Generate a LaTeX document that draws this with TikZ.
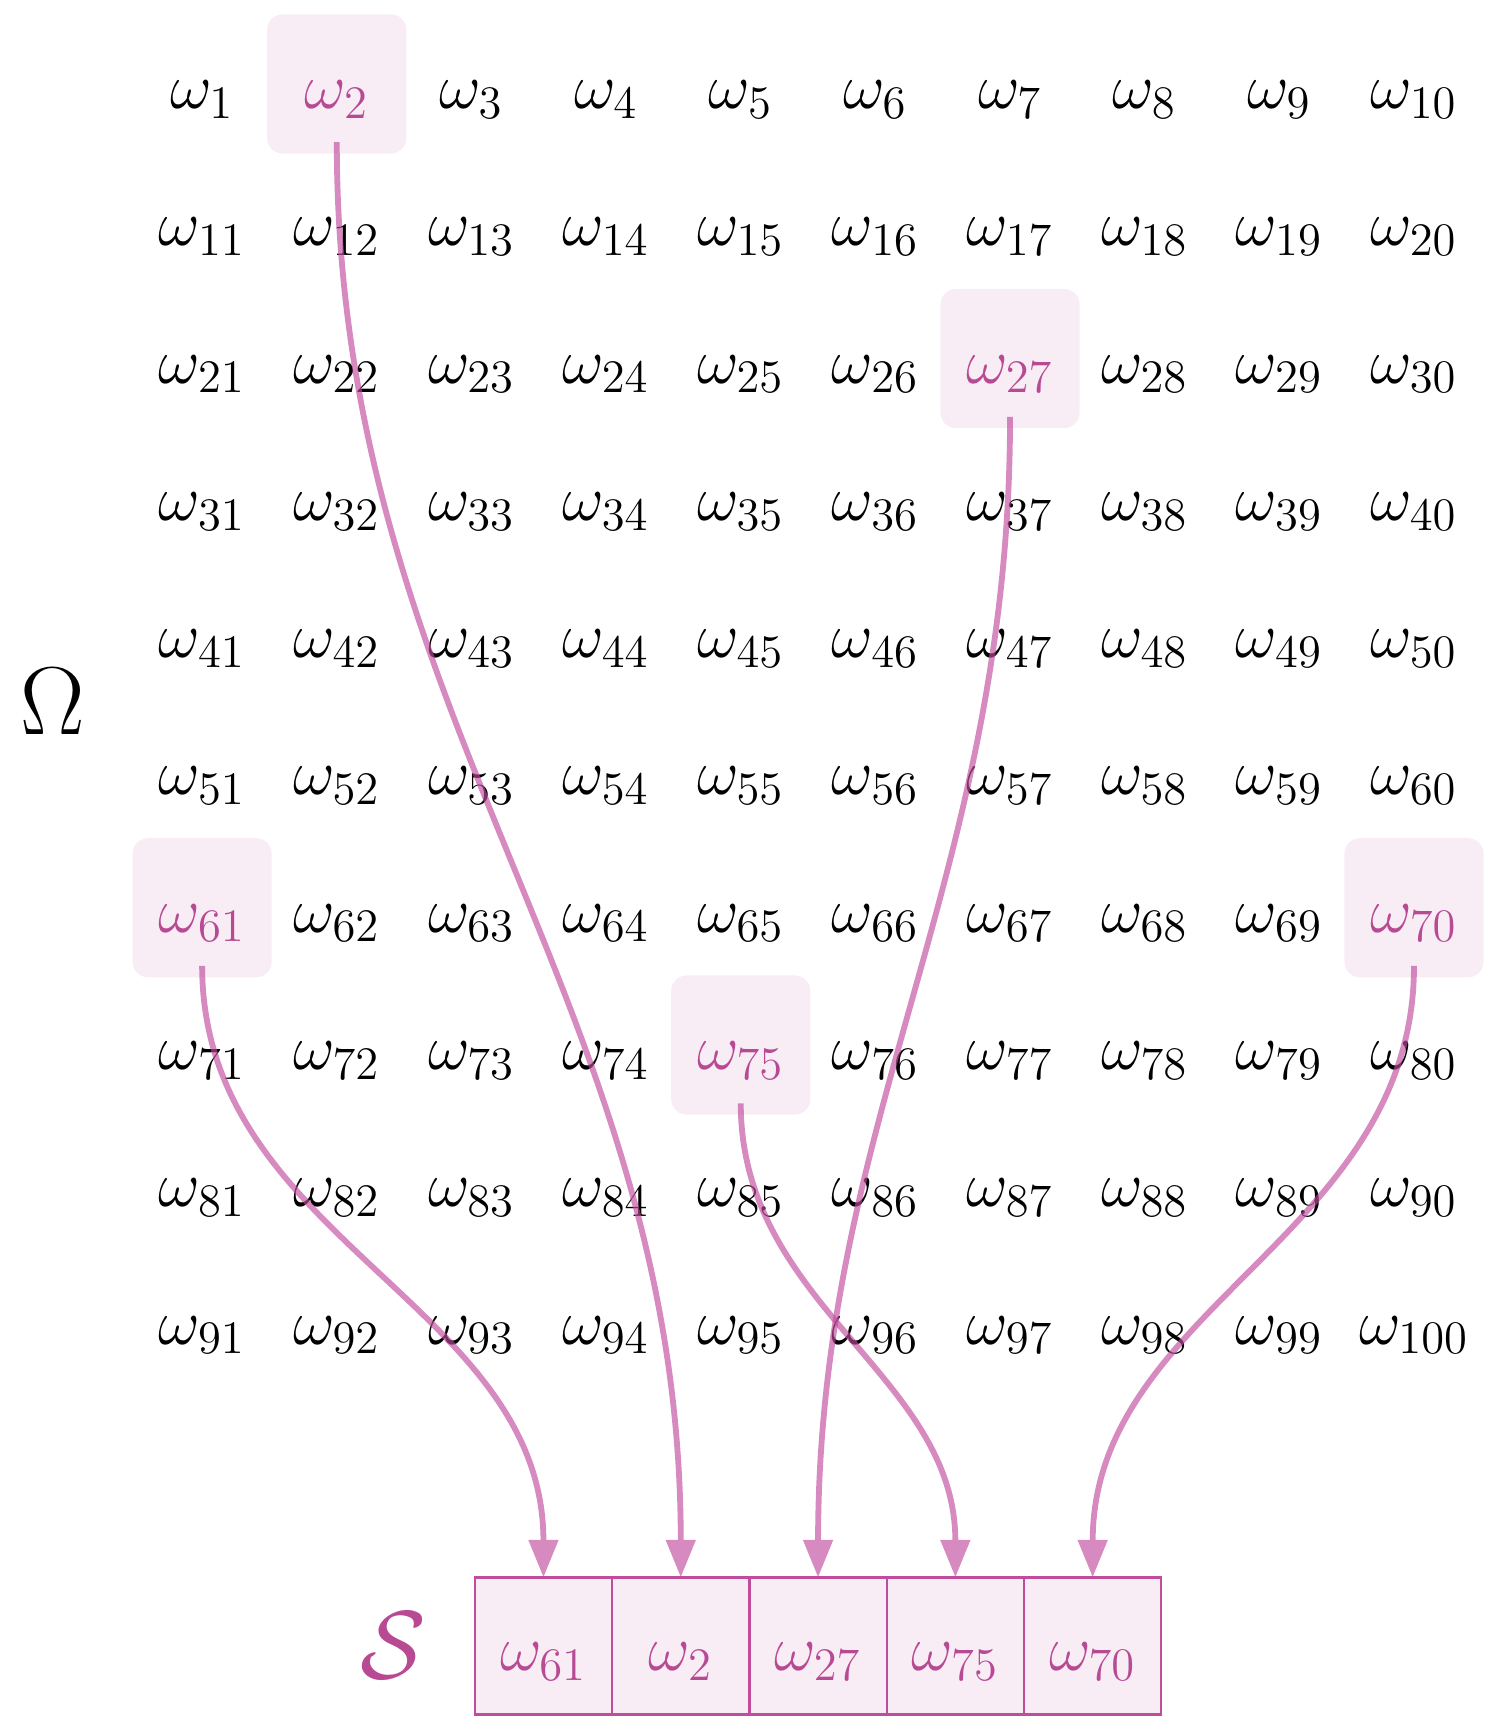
\RequirePackage{fix-cm}
\documentclass[tikz,border=0pt]{standalone}
\usetikzlibrary{arrows.meta,positioning}

\DeclareMathSizes{16.6}{16.6}{12}{9}
\definecolor{pickfill}{RGB}{248,236,245}
\definecolor{picktext}{RGB}{184,74,148}
\definecolor{pickline}{RGB}{192,76,156}

\begin{document}
\begin{tikzpicture}[
  elem/.style={inner sep=1pt, minimum height=7.6mm, font=\fontsize{16.6}{19}\selectfont},
  picked/.style={elem, text=picktext},
  pick2/.style={text=picktext}, pick27/.style={text=picktext},
  pick61/.style={text=picktext}, pick70/.style={text=picktext},
  pick75/.style={text=picktext},
  hlbox/.style={fill=pickfill, rounded corners=4pt, minimum size=1.26cm, inner sep=0pt},
  slot/.style={draw=pickline, fill=pickfill, line width=0.6pt, minimum width=1.243cm, minimum height=1.24cm, outer sep=0pt, inner sep=0pt},
  big/.style={font=\fontsize{24.88}{30}\selectfont},
  arr/.style={-{Triangle[length=3.4mm,width=2.6mm]}, line width=1.5pt, draw=pickline}
]
\useasboundingbox (0,0) rectangle (13.56,-15.68);

% highlighted cells
\foreach \c/\r/\n in {2/1/2, 7/3/27, 1/7/61, 10/7/70, 5/8/75}
  \node[hlbox] (box\n) at ({1.83+(\c-1)*1.219}, {-0.76-(\r-1)*1.243}) {};

% the sample space
\foreach \r in {1,...,10}
  \foreach \c in {1,...,10} {
    \pgfmathtruncatemacro{\n}{(\r-1)*10+\c}
    \node[elem, pick\n/.try] (w\n) at ({1.83+(\c-1)*1.219}, {-0.90-(\r-1)*1.243}) {$\omega_{\n}$};
  }

\node[big] (omega) at (0.475,-6.35) {$\Omega$};

% the sample
\node[slot] (s1) at (4.92,-14.90) {};
\node[slot, right=0pt of s1] (s2) {};
\node[slot, right=0pt of s2] (s3) {};
\node[slot, right=0pt of s3] (s4) {};
\node[slot, right=0pt of s4] (s5) {};
\foreach \i/\n in {1/61, 2/2, 3/27, 4/75, 5/70}
  \node[picked] (t\i) at ([yshift=-1.4mm]s\i.center) {$\omega_{\n}$};

\node[big, text=picktext] (sset) at (3.56,-14.90) {$\mathcal{S}$};

\foreach \n/\i in {61/1, 2/2, 27/3, 75/4, 70/5} {
  \begin{scope}[transparency group, opacity=0.65]
    \draw[arr] (w\n.south) to[out=-90, in=90] (s\i.north);
  \end{scope}
}

\end{tikzpicture}
\end{document}
